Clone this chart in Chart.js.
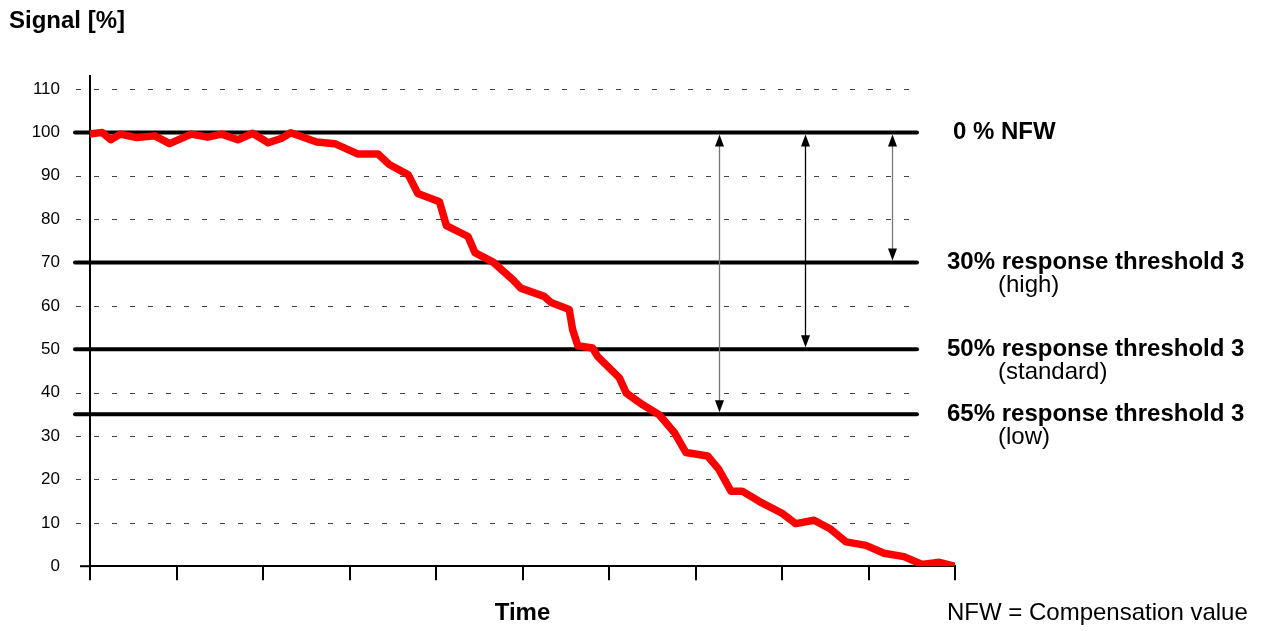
<!DOCTYPE html>
<html>
<head>
<meta charset="utf-8">
<script src="https://cdn.jsdelivr.net/npm/chart.js@4.4.0/dist/chart.umd.min.js"></script>
<style>
html, body { margin: 0; padding: 0; background: #fff; }
#wrap { width: 1262px; height: 631px; position: relative; }
</style>
</head>
<body>
<div id="wrap"><canvas id="myChart"></canvas></div>
<script>
// time axis runs 0..100 (no tick labels), signal in %
const timeValues = [0, 1.4, 2.4, 3.5, 5.4, 7.5, 9.2, 11.7, 13.6, 15.2, 17.1, 18.8, 20.6, 22.1, 23.2, 26.2, 28.3, 31, 33.3, 34.6,
    36.8, 37.9, 40.4, 41.2, 43.7, 44.5, 46.6, 48.9, 49.8, 52.5, 53.3, 55.4, 55.8, 56.4, 58.1, 58.7, 61.2, 62, 63.9, 65.8,
    67.6, 68.9, 71.4, 72.7, 74.1, 75.4, 77.4, 80, 81.6, 83.7, 85.5, 87.4, 89.7, 91.8, 94.1, 96.2, 98.2, 99.9];
const signalValues = [99.6, 100, 98.3, 99.6, 98.8, 99.2, 97.4, 99.6, 98.9, 99.6, 98.3, 99.8, 97.6, 98.6, 99.9, 97.8, 97.4, 95, 95, 92.6,
    90.2, 85.9, 84, 78.5, 76, 72.3, 70.1, 66, 64.1, 62.2, 60.8, 59.2, 54.5, 50.8, 50.3, 48.3, 43.4, 39.9, 37.2, 34.9,
    30.7, 26.2, 25.4, 22.3, 17.3, 17.3, 14.9, 12.2, 9.8, 10.6, 8.7, 5.6, 4.8, 3.0, 2.2, 0.4, 0.9, 0];
const yTicks = [0, 10, 20, 30, 40, 50, 60, 70, 80, 90, 100, 110];
const thresholdValues = [100, 70, 50, 35];
const thresholdLabels = ['0 % NFW', '30% response threshold 3', '50% response threshold 3', '65% response threshold 3'];
const thresholdNotes = ['', '(high)', '(standard)', '(low)'];
const arrowTimes = [72.7, 82.7, 92.7];
const arrowTargets = [35, 50, 70];

const FONT = 'Arial, "Liberation Sans", sans-serif';

function drawArrow(ctx, px, y0, y1, color) {
    ctx.strokeStyle = color;
    ctx.fillStyle = '#000';
    ctx.lineWidth = 1.3;
    ctx.beginPath();
    ctx.moveTo(px, y0 + 10);
    ctx.lineTo(px, y1 - 10);
    ctx.stroke();
    // heads
    ctx.beginPath();
    ctx.moveTo(px, y0 + 2);
    ctx.lineTo(px - 4.5, y0 + 14);
    ctx.lineTo(px + 4.5, y0 + 14);
    ctx.closePath();
    ctx.fill();
    ctx.beginPath();
    ctx.moveTo(px, y1 - 2);
    ctx.lineTo(px - 4.5, y1 - 14);
    ctx.lineTo(px + 4.5, y1 - 14);
    ctx.closePath();
    ctx.fill();
}

const overlay = {
    id: 'overlay',
    beforeDatasetsDraw(chart) {
        const { ctx, chartArea, scales: { x, y } } = chart;
        ctx.save();

        // dashed grid lines
        ctx.strokeStyle = '#444';
        ctx.lineWidth = 1;
        ctx.setLineDash([5, 13]);
        yTicks.forEach(v => {
            if (v === 0 || thresholdValues.includes(v)) return;
            const py = Math.round(y.getPixelForValue(v)) + 0.5;
            ctx.beginPath();
            ctx.moveTo(chartArea.left - 14, py);
            ctx.lineTo(chartArea.right - 45, py);
            ctx.stroke();
        });
        ctx.setLineDash([]);

        // x axis sticks out a bit left of the y axis
        ctx.strokeStyle = '#000';
        ctx.lineWidth = 2;
        ctx.beginPath();
        ctx.moveTo(chartArea.left - 10, y.getPixelForValue(0));
        ctx.lineTo(chartArea.left, y.getPixelForValue(0));
        ctx.stroke();

        // thick threshold lines
        ctx.lineWidth = 4;
        ctx.lineCap = 'round';
        thresholdValues.forEach(v => {
            const py = y.getPixelForValue(v);
            ctx.beginPath();
            ctx.moveTo(chartArea.left - 15, py);
            ctx.lineTo(chartArea.right - 38, py);
            ctx.stroke();
        });
        ctx.lineCap = 'butt';

        // double arrows from 0 % NFW down to each threshold
        arrowTimes.forEach((t, i) => {
            drawArrow(ctx, Math.round(x.getPixelForValue(t)) + 0.5, y.getPixelForValue(100), y.getPixelForValue(arrowTargets[i]), i === 1 ? '#000' : '#777');
        });
        ctx.restore();
    },
    afterDraw(chart) {
        const { ctx, chartArea, scales: { y } } = chart;
        ctx.save();
        ctx.fillStyle = '#000';
        ctx.textBaseline = 'middle';
        ctx.textAlign = 'left';

        ctx.font = 'bold 24px ' + FONT;
        ctx.fillText('Signal [%]', 9, 21);

        thresholdValues.forEach((v, i) => {
            const py = y.getPixelForValue(v);
            ctx.font = 'bold 24px ' + FONT;
            ctx.fillText(thresholdLabels[i], chartArea.right + (i === 0 ? -2 : -8), py);
            if (thresholdNotes[i]) {
                ctx.font = '24px ' + FONT;
                ctx.fillText(thresholdNotes[i], chartArea.right + 43, py + 23);
            }
        });

        ctx.font = '24px ' + FONT;
        ctx.fillText('NFW = Compensation value', chartArea.right - 8, 613);
        ctx.restore();
    }
};

const ctx = document.getElementById('myChart').getContext('2d');
const myChart = new Chart(ctx, {
    type: 'line',
    data: {
        datasets: [{
            data: timeValues.map((t, i) => ({ x: t, y: signalValues[i] })),
            borderColor: '#ff0000',
            borderWidth: 7.5,
            pointRadius: 0,
            tension: 0,
            borderJoinStyle: 'round',
            borderCapStyle: 'round'
        }]
    },
    options: {
        responsive: true,
        maintainAspectRatio: false,
        animation: false,
        layout: { padding: { left: 0, right: 307, top: 76, bottom: 0 } },
        plugins: {
            legend: { display: false },
            tooltip: { enabled: false }
        },
        scales: {
            x: {
                type: 'linear',
                min: 0,
                max: 100,
                ticks: { display: false, stepSize: 10 },
                grid: { drawOnChartArea: false, drawTicks: true, tickLength: 14, color: '#000', lineWidth: 2 },
                border: { display: true, color: '#000', width: 2 },
                title: {
                    display: true,
                    text: 'Time',
                    color: '#000',
                    font: { family: FONT, size: 24, weight: 'bold' },
                    padding: { top: 19, bottom: 3 }
                }
            },
            y: {
                min: 0,
                max: 113,
                afterBuildTicks: axis => { axis.ticks = yTicks.map(v => ({ value: v })); },
                afterFit: axis => { axis.width = 90; },
                ticks: { padding: 30, color: '#000', font: { family: FONT, size: 17 } },
                grid: { display: false, drawTicks: false },
                border: { display: true, color: '#000', width: 2 }
            }
        }
    },
    plugins: [overlay]
});
</script>
</body>
</html>
